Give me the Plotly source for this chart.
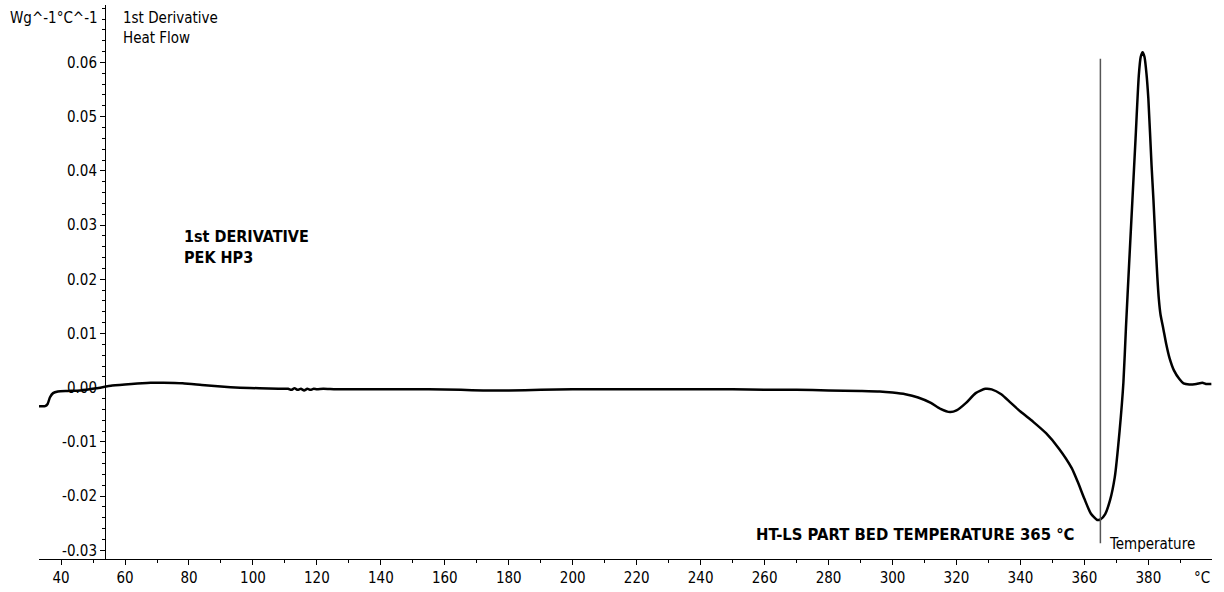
import plotly.graph_objects as go

# Temperature (°C) and 1st derivative of heat flow (W g^-1 °C^-1)
temperature = [33.1, 35.0, 35.8, 36.5, 37.5, 39, 42, 46, 51, 56, 62, 68, 72, 78, 84, 90, 96, 102, 108,
               111, 112, 113, 114, 115, 116, 117, 118, 119, 120, 122, 126, 135, 145, 155, 165, 172, 180,
               190, 200, 210, 220, 230, 240, 250, 260, 270, 280, 290, 296, 300, 304, 308, 312, 315, 318,
               320, 323, 326, 329, 331, 334, 337, 340, 344, 348, 352, 356, 358, 360, 362, 364, 365,
               366.5, 368, 369.5, 371, 372.2, 373, 374, 375, 376, 377, 377.6, 378.2, 378.8, 379.4, 380,
               381.0, 381.6, 382.2, 382.8, 383.3, 383.8, 384.7, 385.6, 386.6, 388, 389.7, 391, 392.8,
               395, 396.9, 398, 399.7]
deriv = [-0.0034, -0.0034, -0.0030, -0.0018, -0.0010, -0.0007, -0.0006, -0.0005, -0.0001, 0.0004,
         0.0007, 0.0009, 0.0009, 0.0008, 0.0005, 0.0002, 0.0000, -0.0001, -0.0002,
         -0.0002, -0.0004, -0.0001, -0.0004, -0.0002, -0.0005, -0.0002, -0.0004, -0.0002, -0.0003,
         -0.0002, -0.0003, -0.0003, -0.0003, -0.0003, -0.0004, -0.0005, -0.0005,
         -0.0004, -0.0003, -0.0003, -0.0003, -0.0003, -0.0003, -0.0003, -0.0004, -0.0004, -0.0005,
         -0.0006, -0.0007, -0.0009, -0.0012, -0.0018, -0.0028, -0.0039, -0.0045,
         -0.0042, -0.0028, -0.0010, -0.0002, -0.0003, -0.0012, -0.0028, -0.0044, -0.0063, -0.0084,
         -0.0112, -0.0148, -0.0175, -0.0205, -0.0232, -0.0244, -0.0243,
         -0.0233, -0.0208, -0.0165, -0.0080, 0.0010, 0.0112, 0.0230, 0.0345, 0.0460, 0.0575, 0.0610,
         0.0619, 0.0610, 0.0580, 0.0533,
         0.0410, 0.0345, 0.0272, 0.0205, 0.0162, 0.0135, 0.0108, 0.0080, 0.0055, 0.0032, 0.0016,
         0.0008, 0.0006, 0.0007, 0.0009, 0.0007, 0.0007]

x_ticks = [40, 60, 80, 100, 120, 140, 160, 180, 200, 220, 240, 260, 280, 300, 320, 340, 360, 380]
y_ticks = [-0.03, -0.02, -0.01, 0.00, 0.01, 0.02, 0.03, 0.04, 0.05, 0.06]
y_tick_labels = ["-0.03", "-0.02", "-0.01", "0.00", "0.01", "0.02", "0.03", "0.04", "0.05", "0.06"]

bed_temp = 365
marker_line_y = [-0.0287, 0.0607]

FONT = "DejaVu Sans Condensed, DejaVu Sans, sans-serif"

fig = go.Figure()
fig.add_trace(go.Scatter(x=temperature, y=deriv, mode="lines",
                         line=dict(color="black", width=2.5, shape="spline", smoothing=0.6),
                         hoverinfo="skip", showlegend=False))
fig.add_trace(go.Scatter(x=[bed_temp, bed_temp], y=marker_line_y, mode="lines",
                         line=dict(color="#555555", width=1.5), hoverinfo="skip", showlegend=False))

fig.update_layout(
    width=1224, height=592,
    margin=dict(l=39, r=12, t=5, b=27),
    paper_bgcolor="white", plot_bgcolor="white",
    font=dict(family=FONT, size=14, color="black"),
    xaxis=dict(range=[33.1, 399.9], domain=[0, 1], tickvals=x_ticks,
               showgrid=False, zeroline=False, showline=True, linecolor="black", linewidth=1,
               ticks="outside", ticklen=5, tickcolor="black",
               minor=dict(dtick=10, ticks="outside", ticklen=3, tickcolor="black", showgrid=False),
               tickfont=dict(family=FONT, size=15)),
    yaxis=dict(range=[-0.0316, 0.0706], anchor="free", position=0.0563,
               tickvals=y_ticks, ticktext=y_tick_labels,
               showgrid=False, zeroline=False, showline=True, linecolor="black", linewidth=1,
               ticks="outside", ticklen=5, tickcolor="black",
               minor=dict(dtick=0.002, tick0=0, ticks="outside", ticklen=3, tickcolor="black", showgrid=False),
               tickfont=dict(family=FONT, size=15)),
)

fig.add_annotation(text="Wg^-1°C^-1", xref="paper", yref="paper", x=0.052, y=0.9964,
                   xanchor="right", yanchor="top", showarrow=False, font=dict(size=15))
fig.add_annotation(text="1st Derivative<br>Heat Flow", xref="paper", yref="paper", x=0.0699, y=0.9964,
                   xanchor="left", yanchor="top", align="left", showarrow=False, font=dict(size=15))
fig.add_annotation(text="<b>1st DERIVATIVE</b><br><b>PEK HP3</b>", x=77.8, y=0.0260,
                   xanchor="left", yanchor="middle", align="left", showarrow=False, font=dict(size=16))
fig.add_annotation(text="<b>HT-LS PART BED TEMPERATURE 365 °C</b>", x=357.5, y=-0.0270,
                   xanchor="right", yanchor="middle", showarrow=False, font=dict(size=16.5))
fig.add_annotation(text="Temperature", x=367.2, y=-0.0289,
                   xanchor="left", yanchor="middle", showarrow=False, font=dict(size=15))
fig.add_annotation(text="°C", x=396.9, xref="x", yref="paper", y=0, yshift=-8,
                   xanchor="center", yanchor="top", showarrow=False, font=dict(size=15))

fig.write_html("out.html", config={"displayModeBar": False},
               post_script="document.body.style.margin='0px';")
